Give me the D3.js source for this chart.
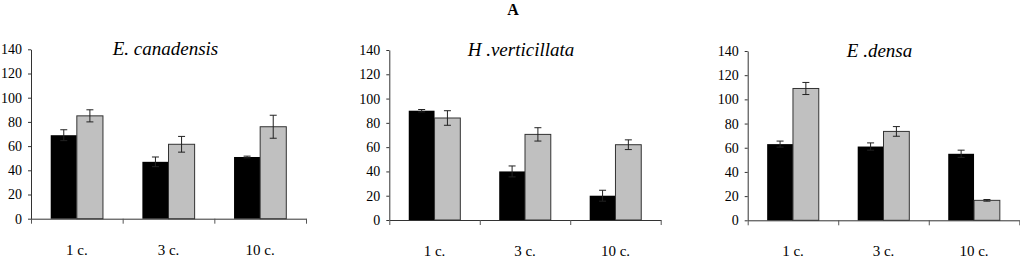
<!DOCTYPE html>
<html>
<head>
<meta charset="utf-8">
<script src="https://cdn.jsdelivr.net/npm/d3@7"></script>
<style>
  body { margin: 0; background: #fff; }
  svg { display: block; }
</style>
</head>
<body>
<div id="chart"></div>
<script>
const categories = ["1 c.", "3 c.", "10 c."];
const species = ["E. canadensis", "H .verticillata", "E .densa"];
const blackValues = [[69, 47, 51], [90, 40, 20], [63, 61, 55]];
const blackErrors = [[4.5, 4, 0.7], [1, 4.5, 4.5], [2.5, 3, 3]];
const greyValues = [[85, 61.5, 76], [84, 70.5, 62], [109, 73.5, 16.5]];
const greyErrors = [[5, 6.5, 9.5], [6, 5.5, 4], [5, 4, 0.7]];
const yTicks = [0, 20, 40, 60, 80, 100, 120, 140];

const width = 1020;
const height = 258;
const serif = "'Liberation Serif', 'Times New Roman', Times, 'DejaVu Serif', serif";

// plot areas of the three panels
const panels = [
  { left: 31, right: 306, top: 49.3, bottom: 218.7 },
  { left: 389.3, right: 660.7, top: 50, bottom: 220 },
  { left: 747.7, right: 1019.3, top: 51, bottom: 220.3 }
];

const svg = d3.select("#chart")
  .append("svg")
  .attr("width", width)
  .attr("height", height)
  .attr("font-family", serif);

svg.append("text")
  .attr("x", 513)
  .attr("y", 15)
  .attr("text-anchor", "middle")
  .attr("font-family", serif)
  .attr("font-size", 16)
  .attr("font-weight", "bold")
  .text("A");

panels.forEach((p, i) => {
  const g = svg.append("g");

  const x = d3.scaleBand()
    .domain(categories)
    .range([p.left, p.right])
    .padding(0);

  const y = d3.scaleLinear()
    .domain([0, 140])
    .range([p.bottom, p.top]);

  const barW = x.bandwidth() * 0.285;

  const rows = categories.map((c, j) => ({
    cat: c,
    black: blackValues[i][j], blackErr: blackErrors[i][j],
    grey: greyValues[i][j], greyErr: greyErrors[i][j]
  }));

  // y axis
  g.append("g")
    .attr("transform", `translate(${p.left},0)`)
    .call(d3.axisLeft(y).tickValues(yTicks).tickSize(3).tickSizeOuter(0).tickPadding(6))
    .attr("font-family", serif)
    .attr("font-size", 14)
    .call(a => a.select(".domain").attr("stroke", "#333"))
    .call(a => a.selectAll(".tick line").attr("stroke", "#333"))
    .call(a => a.selectAll("text").attr("fill", "#000"));

  // x axis with ticks at category boundaries
  const xb = d3.scaleLinear().domain([0, categories.length]).range([p.left, p.right]);
  g.append("g")
    .attr("transform", `translate(0,${p.bottom})`)
    .call(d3.axisBottom(xb).ticks(categories.length).tickSize(5).tickSizeOuter(0).tickFormat(""))
    .call(a => a.select(".domain").attr("stroke", "#333"))
    .call(a => a.selectAll(".tick line").attr("stroke", "#555"));

  // bars
  g.selectAll(".bk")
    .data(rows)
    .join("rect")
    .attr("x", d => x(d.cat) + x.bandwidth() / 2 - barW)
    .attr("y", d => y(d.black))
    .attr("width", barW)
    .attr("height", d => y(0) - y(d.black))
    .attr("fill", "#000");

  g.selectAll(".gr")
    .data(rows)
    .join("rect")
    .attr("x", d => x(d.cat) + x.bandwidth() / 2)
    .attr("y", d => y(d.grey))
    .attr("width", barW)
    .attr("height", d => y(0) - y(d.grey))
    .attr("fill", "#c0c0c0")
    .attr("stroke", "#333")
    .attr("stroke-width", 1);

  // error bars
  const errs = [];
  rows.forEach(d => {
    errs.push({ cx: x(d.cat) + x.bandwidth() / 2 - barW / 2, v: d.black, e: d.blackErr });
    errs.push({ cx: x(d.cat) + x.bandwidth() / 2 + barW / 2, v: d.grey, e: d.greyErr });
  });
  const eg = g.append("g").attr("stroke", "#222").attr("stroke-width", 1);
  errs.forEach(d => {
    eg.append("line").attr("x1", d.cx).attr("x2", d.cx).attr("y1", y(d.v + d.e)).attr("y2", y(d.v - d.e));
    eg.append("line").attr("x1", d.cx - 3.5).attr("x2", d.cx + 3.5).attr("y1", y(d.v + d.e)).attr("y2", y(d.v + d.e));
    eg.append("line").attr("x1", d.cx - 3.5).attr("x2", d.cx + 3.5).attr("y1", y(d.v - d.e)).attr("y2", y(d.v - d.e));
  });

  // category labels
  g.selectAll(".cl")
    .data(categories)
    .join("text")
    .attr("x", d => x(d) + x.bandwidth() / 2)
    .attr("y", p.bottom + 36)
    .attr("text-anchor", "middle")
    .attr("font-family", serif)
    .attr("font-size", 15)
    .text(d => d);

  // panel title
  g.append("text")
    .attr("x", (p.left + p.right) / 2 + (i === 0 ? -3 : -4))
    .attr("y", p.top + 6)
    .attr("text-anchor", "middle")
    .attr("font-family", serif)
    .attr("font-size", 19)
    .attr("font-style", "italic")
    .text(species[i]);
});
</script>
</body>
</html>
